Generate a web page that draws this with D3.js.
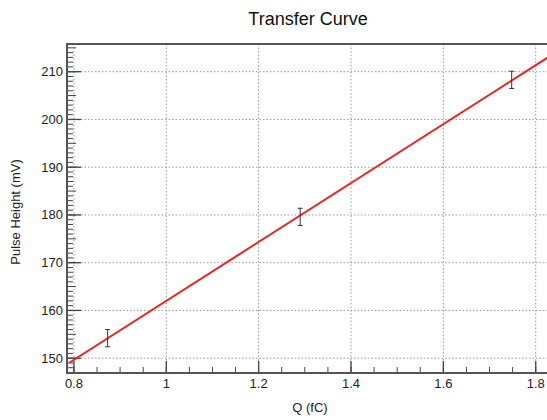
<!DOCTYPE html>
<html>
<head>
<meta charset="utf-8">
<script src="https://cdn.jsdelivr.net/npm/d3@7"></script>
<style>
  body { margin: 0; background: #fff; }
  svg { display: block; font-family: "Liberation Sans", Arial, sans-serif; }
</style>
</head>
<body>
<div id="chart"></div>
<script>
// measured points (charge in fC, pulse height in mV)
var charge = [0.873, 1.29, 1.748];
var height = [154.2, 179.6, 208.3];
var heightErr = [1.8, 1.8, 1.8];

// linear fit shown in red
var fitSlope = 61.7;
var fitIntercept = 100.3;
var fitRange = [0.79, 1.86];

var xTicks = [0.8, 1, 1.2, 1.4, 1.6, 1.8];
var xTickLabels = ["0.8", "1", "1.2", "1.4", "1.6", "1.8"];
var yTicks = [150, 160, 170, 180, 190, 200, 210];

var W = 547, H = 420;
// frame edges (right edge runs past the picture, as in the original)
var pL = 67, pT = 44, pR = 560, pB = 373;

var svg = d3.select("#chart").append("svg")
  .attr("width", W).attr("height", H);

var x = d3.scaleLinear().domain([0.785, 1.8526]).range([pL, pR]);
var y = d3.scaleLinear().domain([146.9, 215.8]).range([pB, pT]);

// grid
var grid = svg.append("g").attr("stroke", "#999").attr("stroke-width", 1)
  .attr("stroke-dasharray", "1.5,2");
grid.selectAll(".gx").data(xTicks).enter().append("line")
  .attr("x1", d => x(d)).attr("x2", d => x(d))
  .attr("y1", pT).attr("y2", pB);
grid.selectAll(".gy").data(yTicks).enter().append("line")
  .attr("x1", pL).attr("x2", pR)
  .attr("y1", d => y(d)).attr("y2", d => y(d));

// minor ticks
var axisCol = "#444";
var xMinor = d3.range(0.8, 1.86, 0.05);
svg.append("g").selectAll("line").data(xMinor).enter().append("line")
  .attr("x1", d => x(d)).attr("x2", d => x(d))
  .attr("y1", pB).attr("y2", pB - 6)
  .attr("stroke", axisCol).attr("stroke-width", 1);
var yMinor = d3.range(147, 216, 1);
svg.append("g").selectAll("line").data(yMinor).enter().append("line")
  .attr("x1", pL).attr("x2", d => d % 5 == 0 ? pL + 9 : pL + 6)
  .attr("y1", d => y(d)).attr("y2", d => y(d))
  .attr("stroke", axisCol).attr("stroke-width", 1);

// major ticks
svg.append("g").selectAll("line").data(xTicks).enter().append("line")
  .attr("x1", d => x(d)).attr("x2", d => x(d))
  .attr("y1", pB).attr("y2", pB - 12)
  .attr("stroke", axisCol).attr("stroke-width", 1.3);
svg.append("g").selectAll("line").data(yTicks).enter().append("line")
  .attr("x1", pL).attr("x2", pL + 14)
  .attr("y1", d => y(d)).attr("y2", d => y(d))
  .attr("stroke", axisCol).attr("stroke-width", 1.3);

// frame
svg.append("rect")
  .attr("x", pL).attr("y", pT)
  .attr("width", pR - pL).attr("height", pB - pT)
  .attr("fill", "none").attr("stroke", "#555").attr("stroke-width", 2);

// tick labels
svg.append("g").selectAll("text").data(xTicks).enter().append("text")
  .attr("x", d => x(d)).attr("y", pB + 15)
  .attr("text-anchor", "middle")
  .attr("font-size", 13).attr("fill", "#222")
  .text((d, i) => xTickLabels[i]);
svg.append("g").selectAll("text").data(yTicks).enter().append("text")
  .attr("x", pL - 4).attr("y", d => y(d) + 4.5)
  .attr("text-anchor", "end")
  .attr("font-size", 13).attr("fill", "#222")
  .text(d => d);

// fit line
var fitLine = d3.line().x(d => x(d)).y(d => y(fitIntercept + fitSlope * d));
svg.append("path")
  .datum(fitRange)
  .attr("d", fitLine)
  .attr("fill", "none").attr("stroke", "#f02020").attr("stroke-width", 2);

// error bars
var pts = charge.map((c, i) => ({ q: c, h: height[i], e: heightErr[i] }));
var eb = svg.append("g").attr("stroke", "#333").attr("stroke-width", 1);
pts.forEach(function (p) {
  eb.append("line").attr("x1", x(p.q)).attr("x2", x(p.q))
    .attr("y1", y(p.h - p.e)).attr("y2", y(p.h + p.e));
  eb.append("line").attr("x1", x(p.q) - 2.5).attr("x2", x(p.q) + 2.5)
    .attr("y1", y(p.h - p.e)).attr("y2", y(p.h - p.e));
  eb.append("line").attr("x1", x(p.q) - 2.5).attr("x2", x(p.q) + 2.5)
    .attr("y1", y(p.h + p.e)).attr("y2", y(p.h + p.e));
});

// title and axis labels
svg.append("text").attr("x", 308).attr("y", 25)
  .attr("text-anchor", "middle").attr("font-size", 18).attr("fill", "#111")
  .text("Transfer Curve");
svg.append("text").attr("x", 310).attr("y", 412)
  .attr("text-anchor", "middle").attr("font-size", 13).attr("fill", "#222")
  .text("Q (fC)");
svg.append("text")
  .attr("transform", "translate(20,212) rotate(-90)")
  .attr("text-anchor", "middle").attr("font-size", 13).attr("fill", "#222")
  .text("Pulse Height (mV)");
</script>
</body>
</html>
